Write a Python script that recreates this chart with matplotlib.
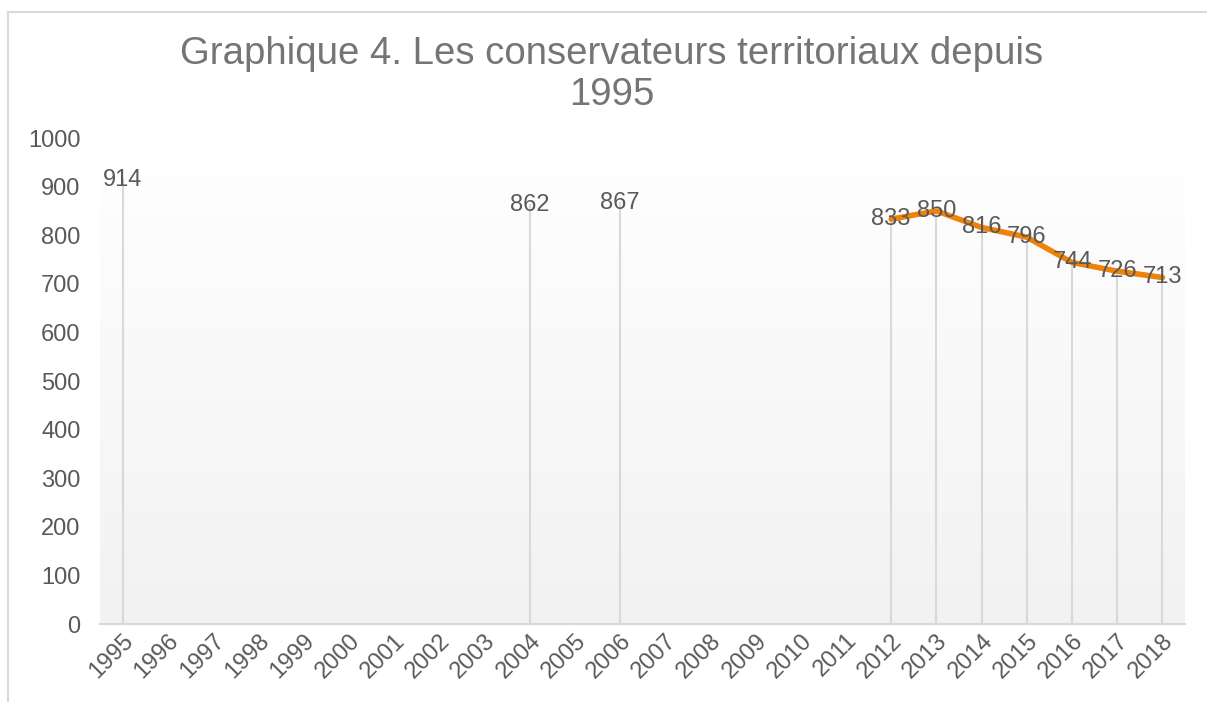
import numpy as np
import matplotlib.pyplot as plt
from matplotlib.lines import Line2D

plt.rcParams['font.family'] = ['Liberation Sans', 'DejaVu Sans']

years = [str(y) for y in range(1995, 2019)]
values = [914, None, None, None, None, None, None, None, None, 862, None, 867,
          None, None, None, None, None, 833, 850, 816, 796, 744, 726, 713]
y_ticks = [0, 100, 200, 300, 400, 500, 600, 700, 800, 900, 1000]

vals = np.array([np.nan if v is None else v for v in values], dtype=float)
x = np.arange(len(years))

fig = plt.figure(figsize=(12.07, 7.02), dpi=100)
ax = fig.add_axes([0.0829, 0.1111, 0.8989, 0.6923])

# plot area gradient (white at top to light gray at bottom)
grad = np.linspace(1.0, 0.949, 256).reshape(-1, 1)
ax.imshow(np.dstack([grad, grad, grad]), extent=[-0.5, 23.5, 0, 1000],
          aspect='auto', zorder=0, interpolation='bicubic')

# drop lines
for xi, v in zip(x, vals):
    if not np.isnan(v):
        ax.plot([xi, xi], [0, v], color='#d9d9d9', lw=1.5, zorder=1)

ax.plot(x, vals, color='#f0820a', lw=4, solid_capstyle='round', zorder=2)

for xi, v in zip(x, vals):
    if not np.isnan(v):
        ax.text(xi, v, f'{int(v)}', ha='center', va='center', fontsize=17,
                color='#595959', zorder=3)

ax.set_xlim(-0.5, 23.5)
ax.set_ylim(0, 1000)
ax.set_yticks(y_ticks)
ax.set_xticks(x)
ax.set_xticklabels(years, rotation=45, ha='right', rotation_mode='anchor')
ax.tick_params(axis='both', length=0, labelsize=17, colors='#595959')
ax.tick_params(axis='y', pad=14)
ax.tick_params(axis='x', pad=4)
for s in ['top', 'right', 'left']:
    ax.spines[s].set_visible(False)
ax.spines['bottom'].set_color('#d9d9d9')
ax.spines['bottom'].set_linewidth(1.5)

fig.text(0.507, 0.894, 'Graphique 4. Les conservateurs territoriaux depuis\n1995',
         ha='center', va='center', fontsize=27.6, color='#757575', linespacing=1.2)

# chart area border (top and left)
fig.add_artist(Line2D([8 / 1207, 1], [1 - 12 / 702, 1 - 12 / 702],
                      color='#d9d9d9', lw=1.5, transform=fig.transFigure))
fig.add_artist(Line2D([8 / 1207, 8 / 1207], [0, 1 - 12 / 702],
                      color='#d9d9d9', lw=1.5, transform=fig.transFigure))

fig.savefig('out.png', dpi=100)
